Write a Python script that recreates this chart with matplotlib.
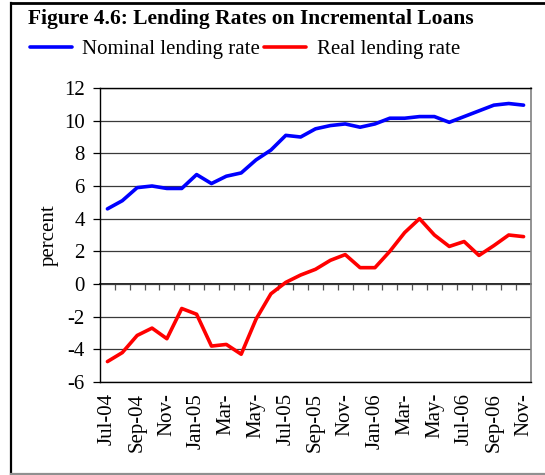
import matplotlib
matplotlib.use('Agg')
import matplotlib.pyplot as plt
from matplotlib.lines import Line2D
import numpy as np

plt.rcParams['font.family'] = ['Liberation Serif', 'DejaVu Serif']
plt.rcParams['axes.unicode_minus'] = False

# Monthly lending rates, Jul-04 to Nov-06 (percent)
months = ['Jul-04', 'Aug-04', 'Sep-04', 'Oct-04', 'Nov-04', 'Dec-04',
          'Jan-05', 'Feb-05', 'Mar-05', 'Apr-05', 'May-05', 'Jun-05',
          'Jul-05', 'Aug-05', 'Sep-05', 'Oct-05', 'Nov-05', 'Dec-05',
          'Jan-06', 'Feb-06', 'Mar-06', 'Apr-06', 'May-06', 'Jun-06',
          'Jul-06', 'Aug-06', 'Sep-06', 'Oct-06', 'Nov-06']
nominal = [4.6, 5.1, 5.9, 6.0, 5.85, 5.85, 6.7, 6.15, 6.6, 6.8,
           7.6, 8.2, 9.1, 9.0, 9.5, 9.7, 9.8, 9.6, 9.8, 10.15,
           10.15, 10.25, 10.25, 9.9, 10.25, 10.6, 10.95, 11.05, 10.95]
real = [-4.75, -4.2, -3.15, -2.7, -3.35, -1.5, -1.85, -3.8, -3.7, -4.3,
        -2.15, -0.6, 0.1, 0.55, 0.9, 1.45, 1.8, 1.0, 1.0, 2.0,
        3.15, 4.0, 3.0, 2.3, 2.6, 1.75, 2.35, 3.0, 2.9]
# every second month gets a label, as in the printed figure
tick_labels = ['Jul-04', 'Sep-04', 'Nov-', 'Jan-05', 'Mar-', 'May-', 'Jul-05',
               'Sep-05', 'Nov-', 'Jan-06', 'Mar-', 'May-', 'Jul-06',
               'Sep-06', 'Nov-']

x = np.arange(len(months))
fs = 15

fig = plt.figure(figsize=(5.45, 4.75), dpi=100)
ax = fig.add_axes([100/545, 1 - 382/475, 431/545, 294/475])

ax.plot(x, nominal, color='#0000FF', lw=2.6, solid_capstyle='round',
        label='Nominal lending rate')
ax.plot(x, real, color='#FF0000', lw=2.6, solid_capstyle='round',
        label='Real lending rate')

ax.set_xlim(-0.5, len(months) - 0.5)
ax.set_ylim(-6, 12)
ax.set_yticks(np.arange(-6, 13, 2))
ax.yaxis.grid(True, color='#3a3a3a', lw=0.9)
ax.set_axisbelow(True)
ax.tick_params(axis='y', direction='out', length=5, width=0.9,
               labelsize=fs, pad=6)

# labels at bottom, tick marks on the zero line
ax.set_xticks(x[::2])
ax.set_xticklabels(tick_labels, rotation=90, fontsize=fs)
ax.tick_params(axis='x', length=0, pad=8)
zero_axis = ax.secondary_xaxis(6 / 18)
zero_axis.set_xticks(x[:-1] + 0.5)
zero_axis.set_xticklabels([])
zero_axis.tick_params(axis='x', direction='out', length=4, width=0.9,
                      color='#555555')
zero_axis.spines['bottom'].set_linewidth(1.2)

for side in ['left', 'bottom', 'top']:
    ax.spines[side].set_color('black')
    ax.spines[side].set_linewidth(1.0)
ax.spines['right'].set_color('#808080')
ax.spines['right'].set_linewidth(1.2)

ax.set_ylabel('percent', fontsize=fs, labelpad=4)

fig.text(28/545, 1 - 19/475, 'Figure 4.6: Lending Rates on Incremental Loans',
         fontsize=15.5, fontweight='bold', va='center', ha='left')

handles, labels = ax.get_legend_handles_labels()
fig.legend(handles, labels, loc='center left',
           bbox_to_anchor=(22/545, 1 - 49/475), ncol=2, frameon=False,
           fontsize=fs, handlelength=2.0, handletextpad=0.5,
           columnspacing=0.2, borderaxespad=0)

# outer frame of the figure box
fig.add_artist(Line2D([11/545, 11/545], [1 - 474/475, 1 - 3/475],
                      color='black', lw=1.6))
fig.add_artist(Line2D([11/545, 1], [1 - 3/475, 1 - 3/475],
                      color='black', lw=2.0))
fig.add_artist(Line2D([11/545, 1], [1 - 474/475, 1 - 474/475],
                      color='#909090', lw=1.6))

fig.savefig('out.png', dpi=100)
